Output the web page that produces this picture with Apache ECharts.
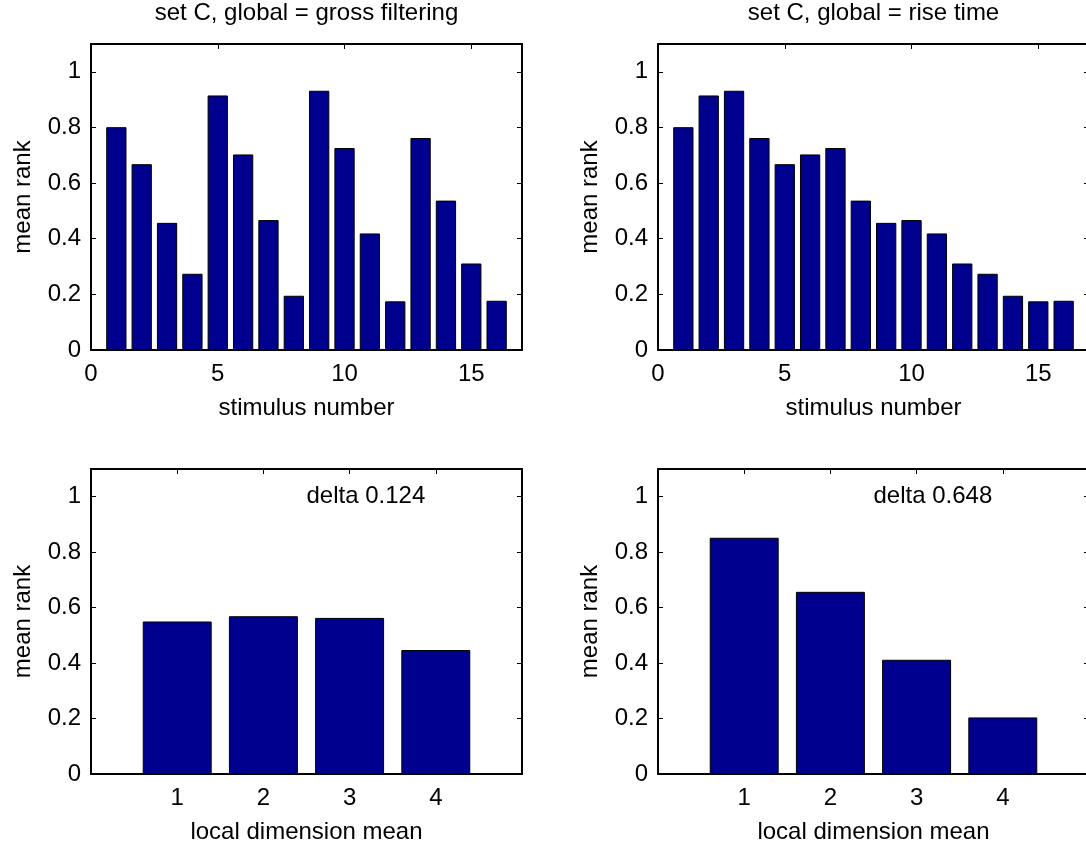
<!DOCTYPE html>
<html>
<head>
<meta charset="utf-8">
<script src="https://cdn.jsdelivr.net/npm/echarts@6/dist/echarts.min.js"></script>
<style>
  html, body { margin: 0; padding: 0; background: #fff; }
  #main { width: 1086px; height: 844px; }
</style>
</head>
<body>
<div id="main"></div>
<script>
  // data
  const stimulusNumbers = [1, 2, 3, 4, 5, 6, 7, 8, 9, 10, 11, 12, 13, 14, 15, 16];
  const grossFilteringRank = [0.801, 0.668, 0.457, 0.274, 0.915, 0.703, 0.467, 0.195,
    0.932, 0.726, 0.419, 0.175, 0.762, 0.537, 0.311, 0.177];
  const riseTimeRank = [0.801, 0.915, 0.932, 0.762, 0.668, 0.703, 0.726, 0.537,
    0.457, 0.467, 0.419, 0.311, 0.274, 0.195, 0.175, 0.177];
  const localDimensions = [1, 2, 3, 4];
  const grossLocalMean = [0.550, 0.569, 0.563, 0.447];
  const riseLocalMean = [0.852, 0.657, 0.412, 0.204];

  const panelTitles = ['set C, global = gross filtering', 'set C, global = rise time'];
  const deltaLabels = ['delta 0.124', 'delta 0.648'];
  const deltaPosition = [2.5, 1.0];
  const stimulusTicks = [0, 5, 10, 15];
  const localTicks = [1, 2, 3, 4];
  const rankTicks = [0, 0.2, 0.4, 0.6, 0.8, 1];

  const font = 'Liberation Sans, Arial, Helvetica, sans-serif';
  const fontSize = 24;
  const barColor = '#00008f';

  const grids = [
    { left: 91, top: 44, width: 431, height: 306 },
    { left: 658, top: 44, width: 431, height: 306 },
    { left: 91, top: 469, width: 431, height: 305 },
    { left: 658, top: 469, width: 431, height: 305 },
  ].map(g => Object.assign({ outerBoundsMode: 'none', containLabel: false }, g));

  const inList = (list, v) => list.some(t => Math.abs(t - v) < 1e-6);

  const frameStyle = { color: '#000', width: 2 };
  const tickStyle = { color: '#000', width: 1 };

  function xAxes(gridIndex, max, interval, ticks, name) {
    return [
      {
        type: 'value', gridIndex, position: 'bottom', min: 0, max, interval,
        name, nameLocation: 'middle', nameGap: 46,
        nameTextStyle: { fontFamily: font, fontSize, color: '#000' },
        axisLine: { show: true, onZero: false, lineStyle: frameStyle },
        axisTick: { show: true, inside: true, length: 5, lineStyle: tickStyle,
          interval: (i, v) => inList(ticks, v) },
        axisLabel: { show: true, margin: 12, fontFamily: font, fontSize, color: '#000',
          formatter: v => inList(ticks, v) ? String(v) : '',
          showMinLabel: true, showMaxLabel: true, hideOverlap: false },
        splitLine: { show: false },
      },
      {
        type: 'value', gridIndex, position: 'top', min: 0, max, interval,
        axisLine: { show: true, onZero: false, lineStyle: frameStyle },
        axisTick: { show: true, inside: true, length: 5, lineStyle: tickStyle },
        axisLabel: { show: false },
        splitLine: { show: false },
      },
    ];
  }

  function yAxes(gridIndex) {
    return [
      {
        type: 'value', gridIndex, position: 'left', min: 0, max: 1.1, interval: 0.2,
        name: 'mean rank', nameLocation: 'middle', nameGap: 56, nameRotate: 90,
        nameTextStyle: { fontFamily: font, fontSize, color: '#000' },
        axisLine: { show: true, onZero: false, lineStyle: frameStyle },
        axisTick: { show: true, inside: true, length: 5, lineStyle: tickStyle },
        axisLabel: { show: true, margin: 10, fontFamily: font, fontSize, color: '#000',
          formatter: v => inList(rankTicks, v) ? String(+v.toFixed(1)) : '',
          showMinLabel: true, showMaxLabel: false, hideOverlap: false },
        splitLine: { show: false },
      },
      {
        type: 'value', gridIndex, position: 'right', min: 0, max: 1.1, interval: 0.2,
        axisLine: { show: true, onZero: false, lineStyle: frameStyle },
        axisTick: { show: true, inside: true, length: 5, lineStyle: tickStyle },
        axisLabel: { show: false },
        splitLine: { show: false },
      },
    ];
  }

  const xAxis = [].concat(
    xAxes(0, 17, 5, stimulusTicks, 'stimulus number'),
    xAxes(1, 17, 5, stimulusTicks, 'stimulus number'),
    xAxes(2, 5, 1, localTicks, 'local dimension mean'),
    xAxes(3, 5, 1, localTicks, 'local dimension mean')
  );
  const yAxis = [].concat(yAxes(0), yAxes(1), yAxes(2), yAxes(3));

  function barSeries(panel, xs, ys) {
    return {
      type: 'bar',
      xAxisIndex: panel * 2,
      yAxisIndex: panel * 2,
      data: xs.map((x, i) => [x, ys[i]]),
      barWidth: '80%',
      itemStyle: { color: barColor, borderColor: '#000', borderWidth: 1 },
      silent: true,
      animation: false,
    };
  }

  function deltaSeries(panel, text) {
    return {
      type: 'scatter',
      xAxisIndex: panel * 2,
      yAxisIndex: panel * 2,
      data: [deltaPosition],
      symbolSize: 0,
      itemStyle: { opacity: 1 },
      silent: true,
      animation: false,
      label: {
        show: true, position: 'right', distance: 0, formatter: text,
        fontFamily: font, fontSize, color: '#000', opacity: 1,
      },
    };
  }

  const option = {
    backgroundColor: '#fff',
    animation: false,
    title: panelTitles.map((t, i) => ({
      text: t,
      left: grids[i].left + grids[i].width / 2,
      top: 1,
      padding: 0,
      textAlign: 'center',
      textStyle: { fontFamily: font, fontSize, fontWeight: 'normal', color: '#000' },
    })),
    grid: grids,
    xAxis,
    yAxis,
    series: [
      barSeries(0, stimulusNumbers, grossFilteringRank),
      barSeries(1, stimulusNumbers, riseTimeRank),
      barSeries(2, localDimensions, grossLocalMean),
      barSeries(3, localDimensions, riseLocalMean),
      deltaSeries(2, deltaLabels[0]),
      deltaSeries(3, deltaLabels[1]),
    ],
  };

  var myChart = echarts.init(document.getElementById('main'));
  myChart.setOption(option);
</script>
</body>
</html>
